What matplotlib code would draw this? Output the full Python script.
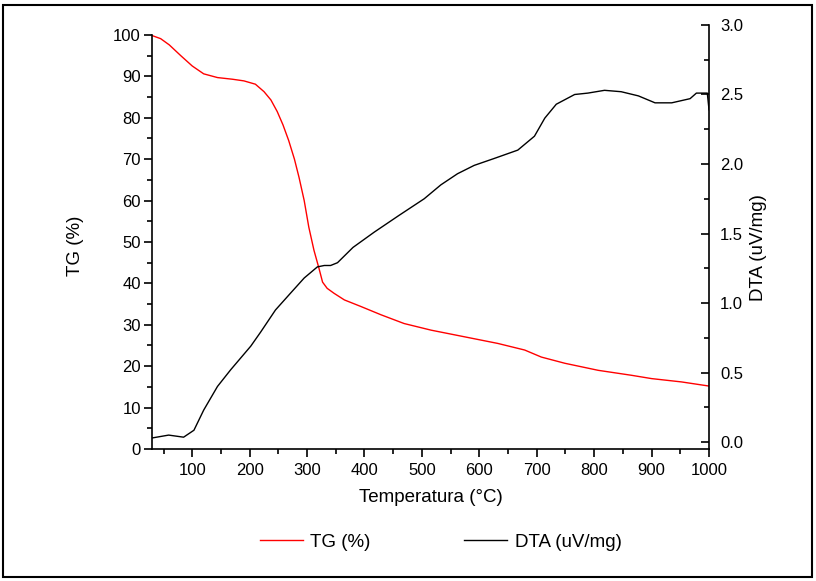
import matplotlib
matplotlib.use("Agg")
import matplotlib.pyplot as plt
from matplotlib.patches import Rectangle
from matplotlib.ticker import MultipleLocator

plt.rcParams['font.family'] = ['Liberation Sans', 'DejaVu Sans']

# TG curve (red)
tg_temp = [31, 45, 60, 80, 100, 120, 144, 170, 190, 210, 225, 237, 248, 258, 268,
           278, 286, 295, 303, 312, 321, 327, 335, 347, 365, 394, 429, 469, 516,
           574, 632, 679, 708, 749, 807, 865, 900, 952, 1000]
tg_val = [99.8, 99.1, 97.6, 95.0, 92.5, 90.6, 89.7, 89.3, 88.9, 88.1, 86.3, 84.3,
          81.5, 78.3, 74.5, 70.0, 65.6, 60.0, 53.6, 48.0, 43.5, 40.3, 38.8, 37.6,
          36.0, 34.4, 32.4, 30.3, 28.7, 27.1, 25.5, 23.9, 22.2, 20.7, 19.0, 17.8,
          17.0, 16.2, 15.2]

# DTA curve (black)
dta_temp = [31, 59, 85, 103, 120, 144, 167, 202, 219, 245, 271, 295, 318, 330, 341,
            353, 380, 417, 460, 504, 533, 562, 591, 626, 667, 696, 714, 734, 766,
            789, 818, 847, 877, 906, 935, 967, 978, 997, 1000]
dta_val = [0.03, 0.05, 0.035, 0.085, 0.23, 0.40, 0.52, 0.69, 0.79, 0.95, 1.07, 1.18,
           1.26, 1.27, 1.27, 1.29, 1.40, 1.51, 1.63, 1.75, 1.85, 1.93, 1.99, 2.04,
           2.10, 2.20, 2.33, 2.43, 2.50, 2.51, 2.53, 2.52, 2.49, 2.44, 2.44, 2.47,
           2.51, 2.51, 2.39]

fig = plt.figure(figsize=(8.16, 5.81), dpi=100)
ax = fig.add_axes([0.1863, 0.2272, 0.6826, 0.7298])
ax2 = ax.twinx()

l1, = ax.plot(tg_temp, tg_val, color='#ff0000', lw=1.0, label='TG (%)')
l2, = ax2.plot(dta_temp, dta_val, color='black', lw=1.0, label='DTA (uV/mg)')

ax.set_xlim(30, 1000)
ax.set_ylim(0, 102.4)
ax2.set_ylim(-0.05, 3.0)

ax.xaxis.set_major_locator(MultipleLocator(100))
ax.xaxis.set_minor_locator(MultipleLocator(50))
ax.yaxis.set_major_locator(MultipleLocator(10))
ax.yaxis.set_minor_locator(MultipleLocator(5))
ax2.yaxis.set_major_locator(MultipleLocator(0.5))
ax2.yaxis.set_minor_locator(MultipleLocator(0.25))
ax2.yaxis.set_major_formatter(plt.FormatStrFormatter('%.1f'))

for a in (ax, ax2):
    a.spines['top'].set_visible(False)
    for s in a.spines.values():
        s.set_linewidth(1.2)
ax.spines['right'].set_visible(False)
ax2.spines['left'].set_visible(False)
ax2.spines['bottom'].set_visible(False)
ax.spines['left'].set_bounds(0, 100)

ax.tick_params(axis='both', which='major', direction='out', length=6, width=1.2,
               labelsize=12, pad=2)
ax.tick_params(axis='both', which='minor', direction='out', length=3.5, width=1.2)
ax.tick_params(axis='x', which='major', pad=4)
ax2.tick_params(axis='y', which='major', direction='in', length=6, width=1.2,
                labelsize=12, pad=8)
ax2.tick_params(axis='y', which='minor', direction='in', length=3.5, width=1.2)

ax.set_xlabel('Temperatura (°C)', fontsize=13.5)
ax.set_ylabel('TG (%)', fontsize=13.5)
ax2.set_ylabel('DTA (uV/mg)', fontsize=13.5)
ax.xaxis.set_label_coords(0.5, -0.095)
ax.yaxis.set_label_coords(-0.122, 0.48)
ax2.yaxis.set_label_coords(1.073, 0.476)

fig.legend([l1, l2], ['TG (%)', 'DTA (uV/mg)'], loc='center', ncol=2,
           bbox_to_anchor=(0.54, 0.067), frameon=False, fontsize=13.5,
           handlelength=2.3, columnspacing=5.0, handletextpad=0.4)

fig.patches.append(Rectangle((0.004, 0.007), 0.991, 0.985, transform=fig.transFigure,
                             fill=False, edgecolor='black', lw=1.5))

fig.savefig('out.png', dpi=100)
